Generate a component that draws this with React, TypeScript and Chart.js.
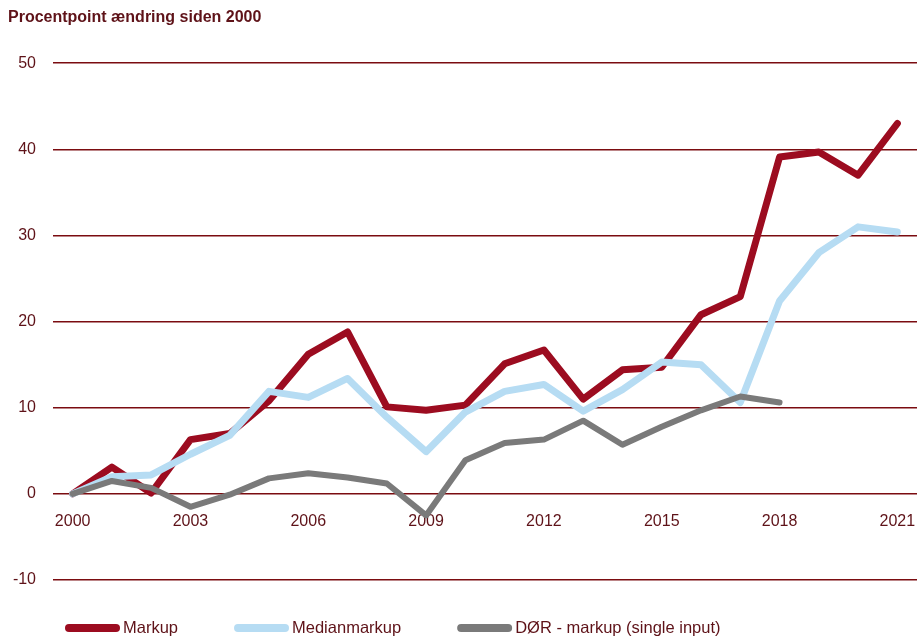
import { useEffect, useRef } from 'react';
import { Chart, registerables } from 'chart.js';

Chart.register(...registerables);

const years = [
  '2000', '2001', '2002', '2003', '2004', '2005', '2006', '2007', '2008', '2009', '2010',
  '2011', '2012', '2013', '2014', '2015', '2016', '2017', '2018', '2019', '2020', '2021',
];
const xTickLabels = ['2000', '2003', '2006', '2009', '2012', '2015', '2018', '2021'];

const markup = [
  0, 3.1, 0.1, 6.3, 7.0, 10.8, 16.2, 18.8, 10.1, 9.7, 10.3,
  15.1, 16.7, 11.0, 14.4, 14.7, 20.8, 22.9, 39.1, 39.7, 37.0, 43.0,
];
const medianMarkup = [
  0, 2.0, 2.2, 4.6, 6.8, 11.9, 11.2, 13.4, 8.9, 4.9, 9.5,
  11.9, 12.7, 9.6, 12.1, 15.3, 15.0, 10.6, 22.4, 28.0, 31.0, 30.4,
];
const dorMarkup = [
  0, 1.5, 0.7, -1.5, -0.1, 1.8, 2.4, 1.9, 1.2, -2.5, 3.9,
  5.9, 6.3, 8.5, 5.7, 7.8, 9.7, 11.3, 10.6, null, null, null,
];

const seriesLabels = ['Markup', 'Medianmarkup', 'DØR - markup (single input)'];
const titleText = 'Procentpoint ændring siden 2000';

const TEXT = '#5e1218';
const GRID = '#7b0c10';
const RED = '#9c0c20';
const BLUE = '#b6dcf3';
const GRAY = '#7a7a7a';
const FONT = '"Liberation Sans", Arial, sans-serif';

const lineLegend = {
  id: 'lineLegend',
  afterDraw(chart: any) {
    const ctx = chart.ctx;
    ctx.save();
    ctx.font = `16.5px ${FONT}`;
    ctx.textBaseline = 'middle';
    ctx.textAlign = 'left';
    const y = 628;
    let x = 65;
    chart.data.datasets.forEach((ds: any) => {
      ctx.strokeStyle = ds.borderColor;
      ctx.lineWidth = 8;
      ctx.lineCap = 'round';
      ctx.beginPath();
      ctx.moveTo(x + 4, y);
      ctx.lineTo(x + 51, y);
      ctx.stroke();
      ctx.fillStyle = TEXT;
      ctx.fillText(ds.label, x + 58, y);
      x += 58 + ctx.measureText(ds.label).width + 56;
    });
    ctx.restore();
  },
};

export default function App() {
  const ref = useRef<HTMLCanvasElement>(null);

  useEffect(() => {
    if (!ref.current) return;
    const chart = new Chart(ref.current, {
      type: 'line',
      data: {
        labels: years,
        datasets: [
          {
            label: seriesLabels[0],
            data: markup,
            borderColor: RED,
            borderWidth: 7,
            order: 2,
          },
          {
            label: seriesLabels[1],
            data: medianMarkup,
            borderColor: BLUE,
            borderWidth: 7,
            order: 1,
          },
          {
            label: seriesLabels[2],
            data: dorMarkup,
            borderColor: GRAY,
            borderWidth: 6,
            order: 0,
          },
        ],
      },
      options: {
        animation: false,
        responsive: true,
        maintainAspectRatio: false,
        layout: { padding: { left: 8, right: 0, top: 0, bottom: 59 } },
        elements: {
          point: { radius: 0, hoverRadius: 0 },
          line: { tension: 0, borderCapStyle: 'round', borderJoinStyle: 'round', fill: false },
        },
        plugins: {
          legend: { display: false },
          tooltip: { enabled: false },
          title: {
            display: true,
            text: titleText,
            align: 'start',
            color: TEXT,
            font: { family: FONT, size: 16, weight: 'bold' },
            padding: { top: 8, bottom: 36 },
          },
        },
        scales: {
          x: {
            type: 'category',
            offset: true,
            position: { y: 0 },
            grid: { display: false, drawTicks: true, tickLength: 18 },
            border: { display: false },
            ticks: {
              autoSkip: false,
              maxRotation: 0,
              padding: 0,
              color: TEXT,
              font: { family: FONT, size: 16 },
              callback: function (this: any, value: any) {
                const lab = this.getLabelForValue(value);
                return xTickLabels.includes(lab) ? lab : '';
              },
            },
            afterFit: (s: any) => {
              s.paddingLeft = 0;
              s.paddingRight = 0;
            },
          },
          y: {
            min: -10,
            max: 50,
            grid: { color: GRID, lineWidth: 1.5, drawTicks: false },
            border: { display: false },
            ticks: {
              stepSize: 10,
              padding: 17,
              color: TEXT,
              font: { family: FONT, size: 16 },
            },
            afterFit: (s: any) => {
              s.width = 45;
            },
          },
        },
      },
      plugins: [lineLegend],
    });
    return () => chart.destroy();
  }, []);

  return (
    <div style={{ position: 'fixed', left: 0, top: 0, width: 917, height: 639, background: '#fff' }}>
      <canvas ref={ref} />
    </div>
  );
}
